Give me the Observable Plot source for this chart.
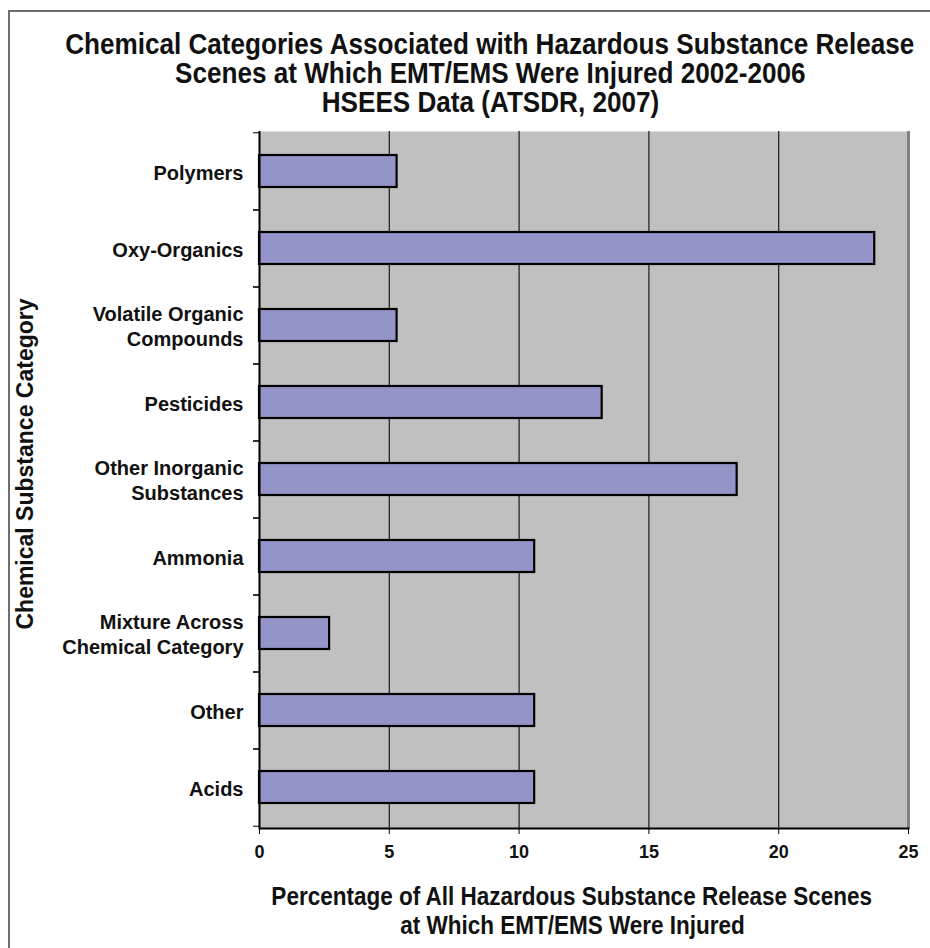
<!DOCTYPE html>
<html>
<head>
<meta charset="utf-8">
<script src="https://cdn.jsdelivr.net/npm/d3@7"></script>
<script src="https://cdn.jsdelivr.net/npm/@observablehq/plot@0.6"></script>
<style>
  body { margin: 0; background: #fff; }
  #page { position: relative; width: 930px; height: 948px; overflow: hidden; color: #111;
          font-family: "Liberation Sans", Arial, sans-serif; }
  #frame { position: absolute; left: 8px; top: 10px; width: 1000px; height: 1000px;
           border-left: 2px solid #6e6e6e; border-top: 2px solid #6e6e6e; }
  .narrow { font-weight: bold; }
  .narrow div { display: flex; justify-content: center; white-space: nowrap; }
  .narrow span { display: inline-block; flex: none; transform: scaleX(0.9); transform-origin: 50% 50%; }
  #title { position: relative; margin-left: 50px; width: 880px; padding-top: 30px;
           font-size: 29px; line-height: 29px; }
  #chart { position: relative; }
  #chart svg text { font-weight: bold; }
  #caption { position: relative; margin-left: 214px; width: 716px; padding-top: 12px;
             font-size: 25px; line-height: 29px; }
</style>
</head>
<body>
<div id="page">
  <div id="frame"></div>
  <div id="title" class="narrow">
    <div><span>Chemical Categories Associated with Hazardous Substance Release</span></div>
    <div><span>Scenes at Which EMT/EMS Were Injured 2002-2006</span></div>
    <div><span>HSEES Data (ATSDR, 2007)</span></div>
  </div>
  <div id="chart"></div>
  <div id="caption" class="narrow">
    <div><span>Percentage of All Hazardous Substance Release Scenes</span></div>
    <div><span>at Which EMT/EMS Were Injured</span></div>
  </div>
</div>
<script>
// Chemical substance categories, top to bottom
const categories = [
  "Polymers",
  "Oxy-Organics",
  "Volatile Organic\nCompounds",
  "Pesticides",
  "Other Inorganic\nSubstances",
  "Ammonia",
  "Mixture Across\nChemical Category",
  "Other",
  "Acids"
];
// Percentage of release scenes with injured EMT/EMS
const percentages = [5.3, 23.7, 5.3, 13.2, 18.4, 10.6, 2.7, 10.6, 10.6];
const xTicks = [0, 5, 10, 15, 20, 25];
const gridValues = [5, 10, 15, 20];
const yTitle = "Chemical Substance Category";

const rows = categories.map((c, i) => ({category: c, value: percentages[i]}));

const width = 930, height = 753;
const marginTop = 14, marginBottom = 42, marginLeft = 259, marginRight = 22;
const step = (height - marginTop - marginBottom) / categories.length;

const chart = Plot.plot({
  width, height, marginTop, marginBottom, marginLeft, marginRight,
  style: {fontFamily: '"Liberation Sans", Arial, sans-serif', color: "#111", background: "transparent"},
  x: {domain: [0, 25]},
  y: {domain: categories, paddingInner: 0.58, paddingOuter: 0.29},
  marks: [
    Plot.frame({fill: "#c0c0c0"}),
    Plot.ruleX(gridValues, {stroke: "#1a1a1a", strokeWidth: 1.2}),
    Plot.ruleX([25], {stroke: "#808080", strokeWidth: 3}),
    Plot.barX(rows, {x: "value", y: "category", fill: "#9494c9", stroke: "#000", strokeWidth: 2.2}),
    Plot.ruleX([0], {stroke: "#000", strokeWidth: 2}),
    Plot.frame({anchor: "bottom", stroke: "#000", strokeWidth: 2}),
    Plot.axisX(xTicks, {anchor: "bottom", tickSize: 6, tickPadding: 11, fontSize: 18,
                        label: null, stroke: "#000"}),
    Plot.axisY({anchor: "left", tickSize: 0, tickPadding: 16, fontSize: 20, lineHeight: 1.25, label: null}),
    Plot.axisY({anchor: "left", text: null, tickSize: 6, dy: step / 2, label: null, stroke: "#000"}),
    Plot.axisY({anchor: "left", text: null, tickSize: 6, dy: -step / 2, label: null, stroke: "#000"}),
    Plot.text([yTitle], {frameAnchor: "left", rotate: -90, dx: -234, dy: -16,
                         textAnchor: "middle", lineAnchor: "middle", fontSize: 23, fontWeight: "bold"})
  ]
});
document.getElementById("chart").appendChild(chart);
</script>
</body>
</html>
